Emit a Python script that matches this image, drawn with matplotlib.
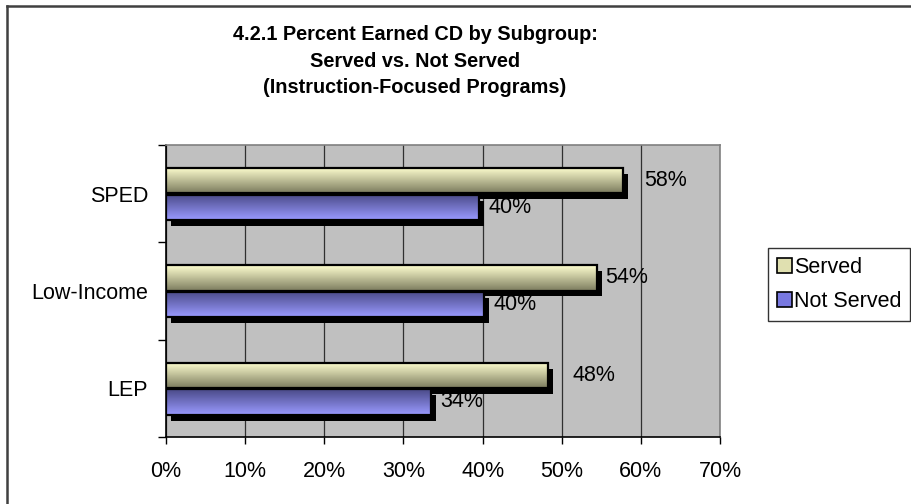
import numpy as np
import matplotlib
matplotlib.use("Agg")
import matplotlib.pyplot as plt
import matplotlib.patheffects as pe
from matplotlib.patches import Rectangle, Patch
from matplotlib.lines import Line2D

plt.rcParams['font.family'] = ['Liberation Sans', 'DejaVu Sans']

# data
categories = ['LEP', 'Low-Income', 'SPED']
served = [48.3, 54.4, 57.7]
not_served = [33.5, 40.2, 39.6]
series_names = ['Served', 'Not Served']
x_ticks = [0, 10, 20, 30, 40, 50, 60, 70]

# label offsets in px (manual placement like the original)
served_lab_dx = [24, 9, 22]
not_lab_dx = [9, 9, 9]

W, H = 911, 504
fig = plt.figure(figsize=(W / 100, H / 100), dpi=100)

def fx(px):
    return px / W

def fy(py):
    return 1 - py / H

FS = 15.5

ax = fig.add_axes([fx(166), fy(437), fx(720) - fx(166), fy(145) - fy(437)])
ax.set_facecolor('#c0c0c0')
ax.set_xlim(0, 70)
ax.set_ylim(0, 3)

centers = np.arange(len(categories)) + 0.5
bh = 0.26
shadow = [pe.SimplePatchShadow(offset=(3.6, -4.3), shadow_rgbFace='black', alpha=1.0), pe.Normal()]

b1 = ax.barh(centers + 0.135, served, height=bh, color='black', zorder=2, path_effects=shadow)
b2 = ax.barh(centers - 0.14, not_served, height=bh, color='black', zorder=2.1, path_effects=shadow)

def gradient(top, bottom, n=64):
    t = np.linspace(0, 1, n)[:, None]
    top = np.array(matplotlib.colors.to_rgb(top))
    bottom = np.array(matplotlib.colors.to_rgb(bottom))
    return (top * (1 - t) + bottom * t)[:, None, :]

g_served = gradient('#ffffd0', '#7c7c5e')
g_not = gradient('#4a4a88', '#9a9aff')

for bars, g, z in [(b1, g_served, 3), (b2, g_not, 3.2)]:
    for p in bars:
        x0, y0, w, h = p.get_x(), p.get_y(), p.get_width(), p.get_height()
        im = ax.imshow(g, extent=(x0, x0 + w, y0, y0 + h), aspect='auto',
                       origin='upper', zorder=z, interpolation='bilinear')
        im.set_clip_path(p)
        ax.add_patch(Rectangle((x0, y0), w, h, fill=False, edgecolor='black',
                               lw=1.6, zorder=z + 0.05))

# data labels
for p, v, dx in zip(b1, served, served_lab_dx):
    ax.annotate(f'{round(v)}%', (v, p.get_y() + p.get_height() / 2),
                xytext=(dx * 0.72, 0), textcoords='offset points',
                ha='left', va='center', fontsize=FS, zorder=5)
for p, v, dx in zip(b2, not_served, not_lab_dx):
    ax.annotate(f'{round(v)}%', (v, p.get_y() + p.get_height() / 2),
                xytext=(dx * 0.72, 0), textcoords='offset points',
                ha='left', va='center', fontsize=FS, zorder=5)

# grid
ax.set_xticks(x_ticks)
ax.set_xticklabels([f'{t}%' for t in x_ticks], fontsize=FS)
ax.xaxis.grid(True, color='#303030', lw=0.9)
ax.set_axisbelow(True)
ax.tick_params(axis='x', length=5, width=1, pad=12, direction='out')

ax.set_yticks(centers)
ax.set_yticklabels(categories, fontsize=FS)
ax.set_yticks(np.arange(len(categories) + 1), minor=True)
ax.tick_params(axis='y', which='major', length=0, pad=13)
ax.tick_params(axis='y', which='minor', length=6, width=1, direction='out')

for s in ['left', 'bottom']:
    ax.spines[s].set_color('black')
    ax.spines[s].set_linewidth(1.2)
for s in ['top', 'right']:
    ax.spines[s].set_color('#808080')
    ax.spines[s].set_linewidth(1.2)

# title
title_lines = ['4.2.1 Percent Earned CD by Subgroup:', 'Served vs. Not Served',
               '(Instruction-Focused Programs)']
for line, base in zip(title_lines, [40, 67, 93]):
    fig.text(fx(415), fy(base), line, ha='center', va='baseline',
             fontsize=14.3, fontweight='bold')

# legend
handles = [Patch(facecolor='#e0e0b0', edgecolor='black', lw=1.2),
           Patch(facecolor='#7878e0', edgecolor='black', lw=1.2)]
leg = fig.legend(handles, series_names, loc='upper left',
                 bbox_to_anchor=(fx(768), fy(248)), fontsize=FS,
                 handlelength=0.7, handleheight=0.7, handletextpad=0.12,
                 borderpad=0.4, labelspacing=0.62, fancybox=False,
                 borderaxespad=0, frameon=True)
leg.get_frame().set_edgecolor('black')
leg.get_frame().set_linewidth(1)

# outer border (left and top visible)
fig.add_artist(Line2D([fx(7), fx(7)], [fy(6), 0], transform=fig.transFigure,
                      color='#404040', lw=1.8))
fig.add_artist(Line2D([fx(7), 1], [fy(6), fy(6)], transform=fig.transFigure,
                      color='#404040', lw=1.8))

fig.savefig('out.png', dpi=100)
